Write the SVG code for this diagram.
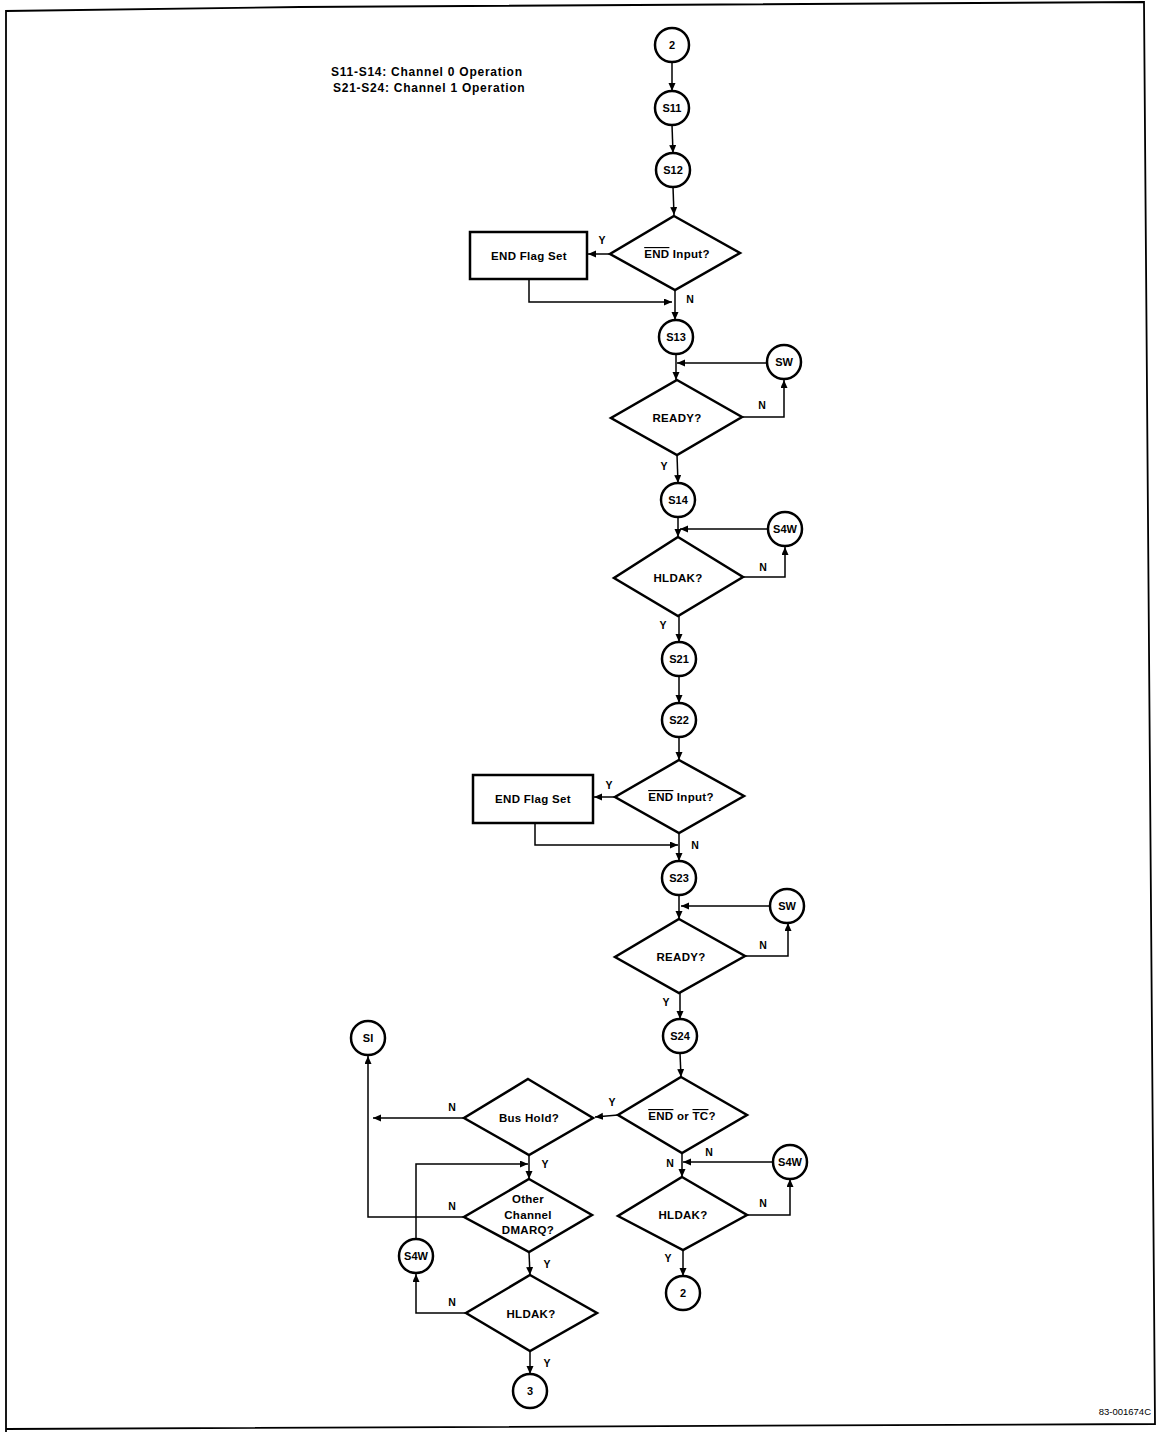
<svg xmlns="http://www.w3.org/2000/svg" width="1158" height="1432" viewBox="0 0 1158 1432">
<style>
.shape{fill:#fff;stroke:#000;stroke-width:2.5}
.conn{fill:none;stroke:#000;stroke-width:1.5}
text{font-family:"Liberation Sans",Arial,sans-serif;font-weight:bold;fill:#000}
.c{font-size:11px;text-anchor:middle;dominant-baseline:central}
.d{font-size:11.5px;text-anchor:middle;dominant-baseline:central;letter-spacing:0.3px}
.l{font-size:10.5px;text-anchor:middle;dominant-baseline:central}
.ov{text-decoration:overline}
.note{font-size:12px;letter-spacing:0.75px}
</style>
<defs>
<marker id="ah" markerUnits="userSpaceOnUse" markerWidth="9" markerHeight="8" refX="8" refY="3.5" orient="auto">
<path d="M0,0 L8,3.5 L0,7 z" fill="#000"/>
</marker>
</defs>
<rect width="1158" height="1432" fill="#fff"/>
<path d="M6,1432 L6,11 L300,7 L1144,2 L1155,1424 L6,1429" fill="none" stroke="#000" stroke-width="1.8"/>
<g id="note">
<text class="note" x="331" y="76">S11-S14: Channel 0 Operation</text>
<text class="note" x="333" y="92">S21-S24: Channel 1 Operation</text>
</g>
<g id="connectors" class="conn" marker-end="url(#ah)">
<path d="M672,62 L672,91"/>
<path d="M672,125 L673,153"/>
<path d="M673,187 L674,215"/>
<path d="M610,254 L588,254"/>
<path d="M529,279 L529,302 L672,302"/>
<path d="M675,291 L675,320"/>
<path d="M676,354 L676,380"/>
<path d="M767,363 L677,363"/>
<path d="M743,417 L784,417 L784,380"/>
<path d="M677,455 L678,483"/>
<path d="M678,517 L678,537"/>
<path d="M768,529 L680,529"/>
<path d="M743,577 L785,577 L785,547"/>
<path d="M679,616 L679,642"/>
<path d="M679,676 L679,703"/>
<path d="M679,737 L679,760"/>
<path d="M615,797 L594,797"/>
<path d="M535,823 L535,845 L678,845"/>
<path d="M679,833 L679,861"/>
<path d="M679,895 L679,919"/>
<path d="M770,906 L681,906"/>
<path d="M745,956 L788,956 L788,923"/>
<path d="M680,993 L680,1019"/>
<path d="M680,1053 L681,1077"/>
<path d="M618,1115 L595,1117"/>
<path d="M464,1118 L373,1118"/>
<path d="M464,1217 L368,1217 L368,1056"/>
<path d="M529,1155 L529,1179"/>
<path d="M416,1239 L416,1164 L528,1164"/>
<path d="M529,1252 L530,1275"/>
<path d="M466,1313 L416,1313 L416,1274"/>
<path d="M530,1351 L530,1374"/>
<path d="M682,1153 L682,1177"/>
<path d="M773,1162 L683,1162"/>
<path d="M747,1215 L790,1215 L790,1179"/>
<path d="M683,1250 L683,1276"/>
</g>
<g id="labels">
<text class="l" x="602" y="240">Y</text>
<text class="l" x="690" y="299">N</text>
<text class="l" x="762" y="405">N</text>
<text class="l" x="664" y="466">Y</text>
<text class="l" x="763" y="567">N</text>
<text class="l" x="663" y="625">Y</text>
<text class="l" x="609" y="785">Y</text>
<text class="l" x="695" y="845">N</text>
<text class="l" x="763" y="945">N</text>
<text class="l" x="666" y="1002">Y</text>
<text class="l" x="612" y="1102">Y</text>
<text class="l" x="452" y="1107">N</text>
<text class="l" x="545" y="1164">Y</text>
<text class="l" x="452" y="1206">N</text>
<text class="l" x="547" y="1264">Y</text>
<text class="l" x="452" y="1302">N</text>
<text class="l" x="547" y="1363">Y</text>
<text class="l" x="709" y="1152">N</text>
<text class="l" x="670" y="1163">N</text>
<text class="l" x="763" y="1203">N</text>
<text class="l" x="668" y="1258">Y</text>
</g>
<g id="n_2top"><circle class="shape" cx="672" cy="45" r="17"/><text class="c" x="672" y="45">2</text></g>
<g id="n_s11"><circle class="shape" cx="672" cy="108" r="17"/><text class="c" x="672" y="108">S11</text></g>
<g id="n_s12"><circle class="shape" cx="673" cy="170" r="17"/><text class="c" x="673" y="170">S12</text></g>
<g id="n_end1"><path class="shape" d="M674,216 L740,253 L675,290 L610,254 Z"/><text class="d" x="677" y="254"><tspan class="ov">END</tspan> Input?</text></g>
<g id="n_flag1"><rect class="shape" x="470" y="232" width="117" height="47"/><text class="d" x="529" y="256">END Flag Set</text></g>
<g id="n_s13"><circle class="shape" cx="676" cy="337" r="17"/><text class="c" x="676" y="337">S13</text></g>
<g id="n_sw1"><circle class="shape" cx="784" cy="362" r="17"/><text class="c" x="784" y="362">SW</text></g>
<g id="n_ready1"><path class="shape" d="M677,380 L742,417 L677,455 L611,418 Z"/><text class="d" x="677" y="418">READY?</text></g>
<g id="n_s14"><circle class="shape" cx="678" cy="500" r="17"/><text class="c" x="678" y="500">S14</text></g>
<g id="n_s4w1"><circle class="shape" cx="785" cy="529" r="17"/><text class="c" x="785" y="529">S4W</text></g>
<g id="n_hldak1"><path class="shape" d="M678,537 L743,577 L678,616 L614,578 Z"/><text class="d" x="678" y="578">HLDAK?</text></g>
<g id="n_s21"><circle class="shape" cx="679" cy="659" r="17"/><text class="c" x="679" y="659">S21</text></g>
<g id="n_s22"><circle class="shape" cx="679" cy="720" r="17"/><text class="c" x="679" y="720">S22</text></g>
<g id="n_end2"><path class="shape" d="M679,760 L744,796 L679,833 L615,797 Z"/><text class="d" x="681" y="797"><tspan class="ov">END</tspan> Input?</text></g>
<g id="n_flag2"><rect class="shape" x="473" y="775" width="120" height="48"/><text class="d" x="533" y="799">END Flag Set</text></g>
<g id="n_s23"><circle class="shape" cx="679" cy="878" r="17"/><text class="c" x="679" y="878">S23</text></g>
<g id="n_sw2"><circle class="shape" cx="787" cy="906" r="17"/><text class="c" x="787" y="906">SW</text></g>
<g id="n_ready2"><path class="shape" d="M679,919 L745,956 L679,993 L615,957 Z"/><text class="d" x="681" y="957">READY?</text></g>
<g id="n_s24"><circle class="shape" cx="680" cy="1036" r="17"/><text class="c" x="680" y="1036">S24</text></g>
<g id="n_endtc"><path class="shape" d="M681,1077 L747,1115 L682,1153 L618,1115 Z"/><text class="d" x="682" y="1116"><tspan class="ov">END</tspan> or <tspan class="ov">TC</tspan>?</text></g>
<g id="n_bushold"><path class="shape" d="M528,1079 L593,1118 L529,1155 L464,1118 Z"/><text class="d" x="529" y="1118">Bus Hold?</text></g>
<g id="n_si"><circle class="shape" cx="368" cy="1038" r="17"/><text class="c" x="368" y="1038">SI</text></g>
<g id="n_other"><path class="shape" d="M529,1179 L592,1215 L529,1252 L464,1217 Z"/><text class="d" x="528" y="1199">Other</text><text class="d" x="528" y="1215">Channel</text><text class="d" x="528" y="1230">DMARQ?</text></g>
<g id="n_s4wl"><circle class="shape" cx="416" cy="1256" r="17"/><text class="c" x="416" y="1256">S4W</text></g>
<g id="n_hldakl"><path class="shape" d="M530,1275 L597,1313 L530,1351 L466,1313 Z"/><text class="d" x="531" y="1314">HLDAK?</text></g>
<g id="n_3"><circle class="shape" cx="530" cy="1391" r="17"/><text class="c" x="530" y="1391">3</text></g>
<g id="n_s4wr"><circle class="shape" cx="790" cy="1162" r="17"/><text class="c" x="790" y="1162">S4W</text></g>
<g id="n_hldakr"><path class="shape" d="M682,1177 L747,1215 L683,1250 L618,1216 Z"/><text class="d" x="683" y="1215">HLDAK?</text></g>
<g id="n_2bot"><circle class="shape" cx="683" cy="1293" r="17"/><text class="c" x="683" y="1293">2</text></g>
<text x="1151" y="1415" style="font-size:9.5px;font-weight:normal;text-anchor:end">83-001674C</text>
</svg>
